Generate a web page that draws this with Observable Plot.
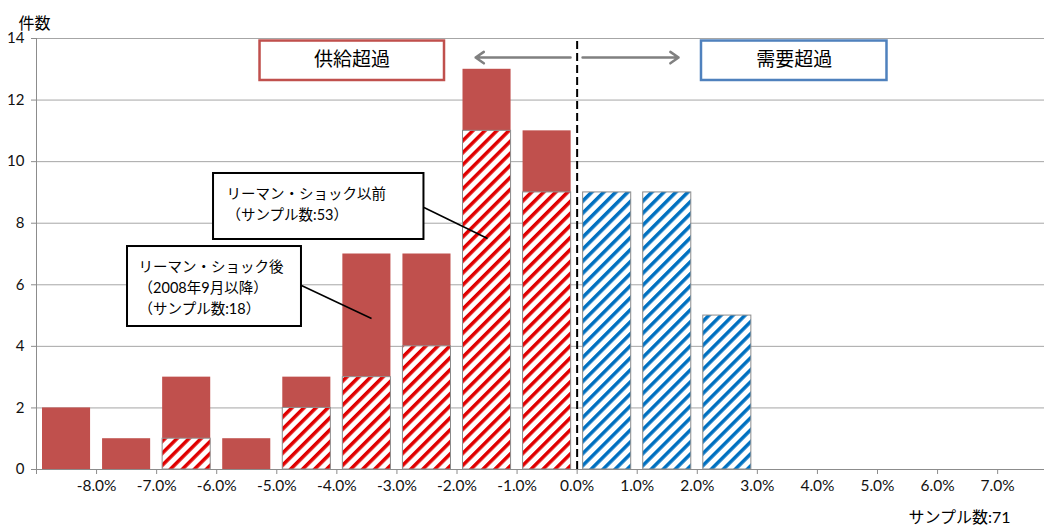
<!DOCTYPE html>
<html>
<head>
<meta charset="utf-8">
<script src="https://cdn.jsdelivr.net/npm/d3@7"></script>
<script src="https://cdn.jsdelivr.net/npm/@observablehq/plot@0.6"></script>
<style>
  html, body { margin: 0; padding: 0; background: #fff; }
</style>
</head>
<body>
<div id="chart"></div>
<script>
// ---- data ----
const binStarts   = [-9, -8, -7, -6, -5, -4, -3, -2, -1, 0, 1, 2, 3, 4, 5, 6];
const preLehman   = [ 0,  0,  1,  0,  2,  3,  4, 11,  9, 9, 9, 5, 0, 0, 0, 0]; // リーマン・ショック以前 (53)
const postLehman  = [ 2,  1,  2,  1,  1,  4,  3,  2,  2, 0, 0, 0, 0, 0, 0, 0]; // リーマン・ショック後 (18)
const xTicks      = [-9, -8, -7, -6, -5, -4, -3, -2, -1, 0, 1, 2, 3, 4, 5, 6, 7];
const yTicks      = [0, 2, 4, 6, 8, 10, 12, 14];
const yTitle      = "件数";
const sampleNote  = "サンプル数:71";
const supplyLabel = "供給超過";
const demandLabel = "需要超過";
const calloutPre  = "リーマン・ショック以前\n（サンプル数:53）";
const calloutPost = "リーマン・ショック後\n（2008年9月以降）\n（サンプル数:18）";

const bins = binStarts.map((x0, i) => ({x0, x1: x0 + 1, pre: preLehman[i], post: postLehman[i]}));

const RED = "#c0504d", BLUE = "#4f81bd", GRID = "#a6a6a6", AXIS = "#8c8c8c";
const font = "Lato, 'Noto Sans CJK JP', sans-serif";

const svg = Plot.plot({
  width: 1044,
  height: 531,
  marginTop: 38,
  marginBottom: 62,
  marginLeft: 36,
  marginRight: 0,
  style: {fontFamily: font, fontSize: "13px", color: "#000", background: "#fff", overflow: "visible"},
  x: {domain: [-9, 7.78]},
  y: {domain: [0, 14]},
  marks: [
    Plot.gridY(yTicks, {stroke: GRID, strokeOpacity: 1}),
    Plot.axisY(yTicks, {tickSize: 5, tickPadding: 7, stroke: AXIS, fill: "#111", fontSize: 15, label: null}),
    Plot.axisX(xTicks, {tickSize: 5, tickPadding: 5, stroke: AXIS, fill: "#111", fontSize: 15.5, label: null,
      tickFormat: d => d === -9 ? "" : d.toFixed(1) + "%"}),
    Plot.ruleX([-9], {stroke: AXIS, strokeWidth: 1}),
    Plot.ruleY([0], {stroke: AXIS, strokeWidth: 1}),
    // post-Lehman (solid, stacked on top)
    Plot.rect(bins, {filter: d => d.post > 0, x1: "x0", x2: "x1", y1: d => d.pre, y2: d => d.pre + d.post,
      fill: RED, insetLeft: 6, insetRight: 6}),
    // pre-Lehman (hatched)
    Plot.rect(bins, {filter: d => d.pre > 0 && d.x0 < 0, x1: "x0", x2: "x1", y1: 0, y2: "pre",
      fill: "url(#hatchRed)", stroke: "#8c8c8c", strokeWidth: 1, insetLeft: 6, insetRight: 6}),
    Plot.rect(bins, {filter: d => d.pre > 0 && d.x0 >= 0, x1: "x0", x2: "x1", y1: 0, y2: "pre",
      fill: "url(#hatchBlue)", stroke: "#8c8c8c", strokeWidth: 1, insetLeft: 6, insetRight: 6}),
    // zero line
    Plot.ruleX([0], {y1: 0, y2: 14, stroke: "#000", strokeWidth: 2, strokeDasharray: "8,4"}),
    // arrows
    Plot.arrow([{a: -0.11, b: -1.69}, {a: 0.09, b: 1.688}], {x1: "a", x2: "b", y1: 13.38, y2: 13.38,
      stroke: "#808080", strokeWidth: 2.5, headLength: 6, headAngle: 70}),
    // labelled boxes
    Plot.rect([{x1: -5.279, x2: -2.208}], {x1: "x1", x2: "x2", y1: 13.918, y2: 12.636, fill: "#fff", stroke: RED, strokeWidth: 2.5}),
    Plot.rect([{x1: 2.070, x2: 5.158}], {x1: "x1", x2: "x2", y1: 13.918, y2: 12.636, fill: "#fff", stroke: BLUE, strokeWidth: 2.5}),
    Plot.text([supplyLabel], {x: -3.748, y: 13.29, text: d => d, fontSize: 19, fill: "#000"}),
    Plot.text([demandLabel], {x: 3.615, y: 13.29, text: d => d, fontSize: 19, fill: "#000"}),
    // callout connectors
    Plot.link([{x1: -2.55, y1: 8.51, x2: -1.492, y2: 7.503}, {x1: -4.589, y1: 5.977, x2: -3.423, y2: 4.905}],
      {x1: "x1", y1: "y1", x2: "x2", y2: "y2", stroke: "#000", strokeWidth: 1.5}),
    // callout boxes
    Plot.rect([{x1: -6.053, x2: -2.55}], {x1: "x1", x2: "x2", y1: 9.615, y2: 7.471, fill: "#fff", stroke: "#000", strokeWidth: 2}),
    Plot.rect([{x1: -7.485, x2: -4.589}], {x1: "x1", x2: "x2", y1: 7.243, y2: 4.645, fill: "#fff", stroke: "#000", strokeWidth: 2}),
    Plot.text([calloutPre], {x: -5.837, y: 8.673, text: d => d, textAnchor: "start", lineAnchor: "middle",
      lineHeight: 1.5, fontSize: 14.5, fill: "#000"}),
    Plot.text([calloutPost], {x: -7.30, y: 5.944, text: d => d, textAnchor: "start", lineAnchor: "middle",
      lineHeight: 1.45, fontSize: 14.5, fill: "#000"}),
    // titles
    Plot.text([yTitle], {frameAnchor: "top-left", dx: -18, dy: -21, text: d => d, textAnchor: "start",
      fontSize: 16, fill: "#000"}),
    Plot.text([sampleNote], {frameAnchor: "bottom-right", dx: -34, dy: 53, text: d => d, textAnchor: "end",
      fontSize: 16, fill: "#000"})
  ]
});

const ns = "http://www.w3.org/2000/svg";
const defs = document.createElementNS(ns, "defs");
defs.innerHTML = `
  <pattern id="hatchRed" patternUnits="userSpaceOnUse" width="8.5" height="8.5" patternTransform="rotate(45)">
    <rect width="8.5" height="8.5" fill="#ffffff"/>
    <rect width="3.5" height="8.5" fill="#e00000"/>
  </pattern>
  <pattern id="hatchBlue" patternUnits="userSpaceOnUse" width="8.5" height="8.5" patternTransform="rotate(45)">
    <rect width="8.5" height="8.5" fill="#ffffff"/>
    <rect width="3.5" height="8.5" fill="#0070c0"/>
  </pattern>`;
svg.prepend(defs);
document.getElementById("chart").appendChild(svg);
</script>
</body>
</html>
